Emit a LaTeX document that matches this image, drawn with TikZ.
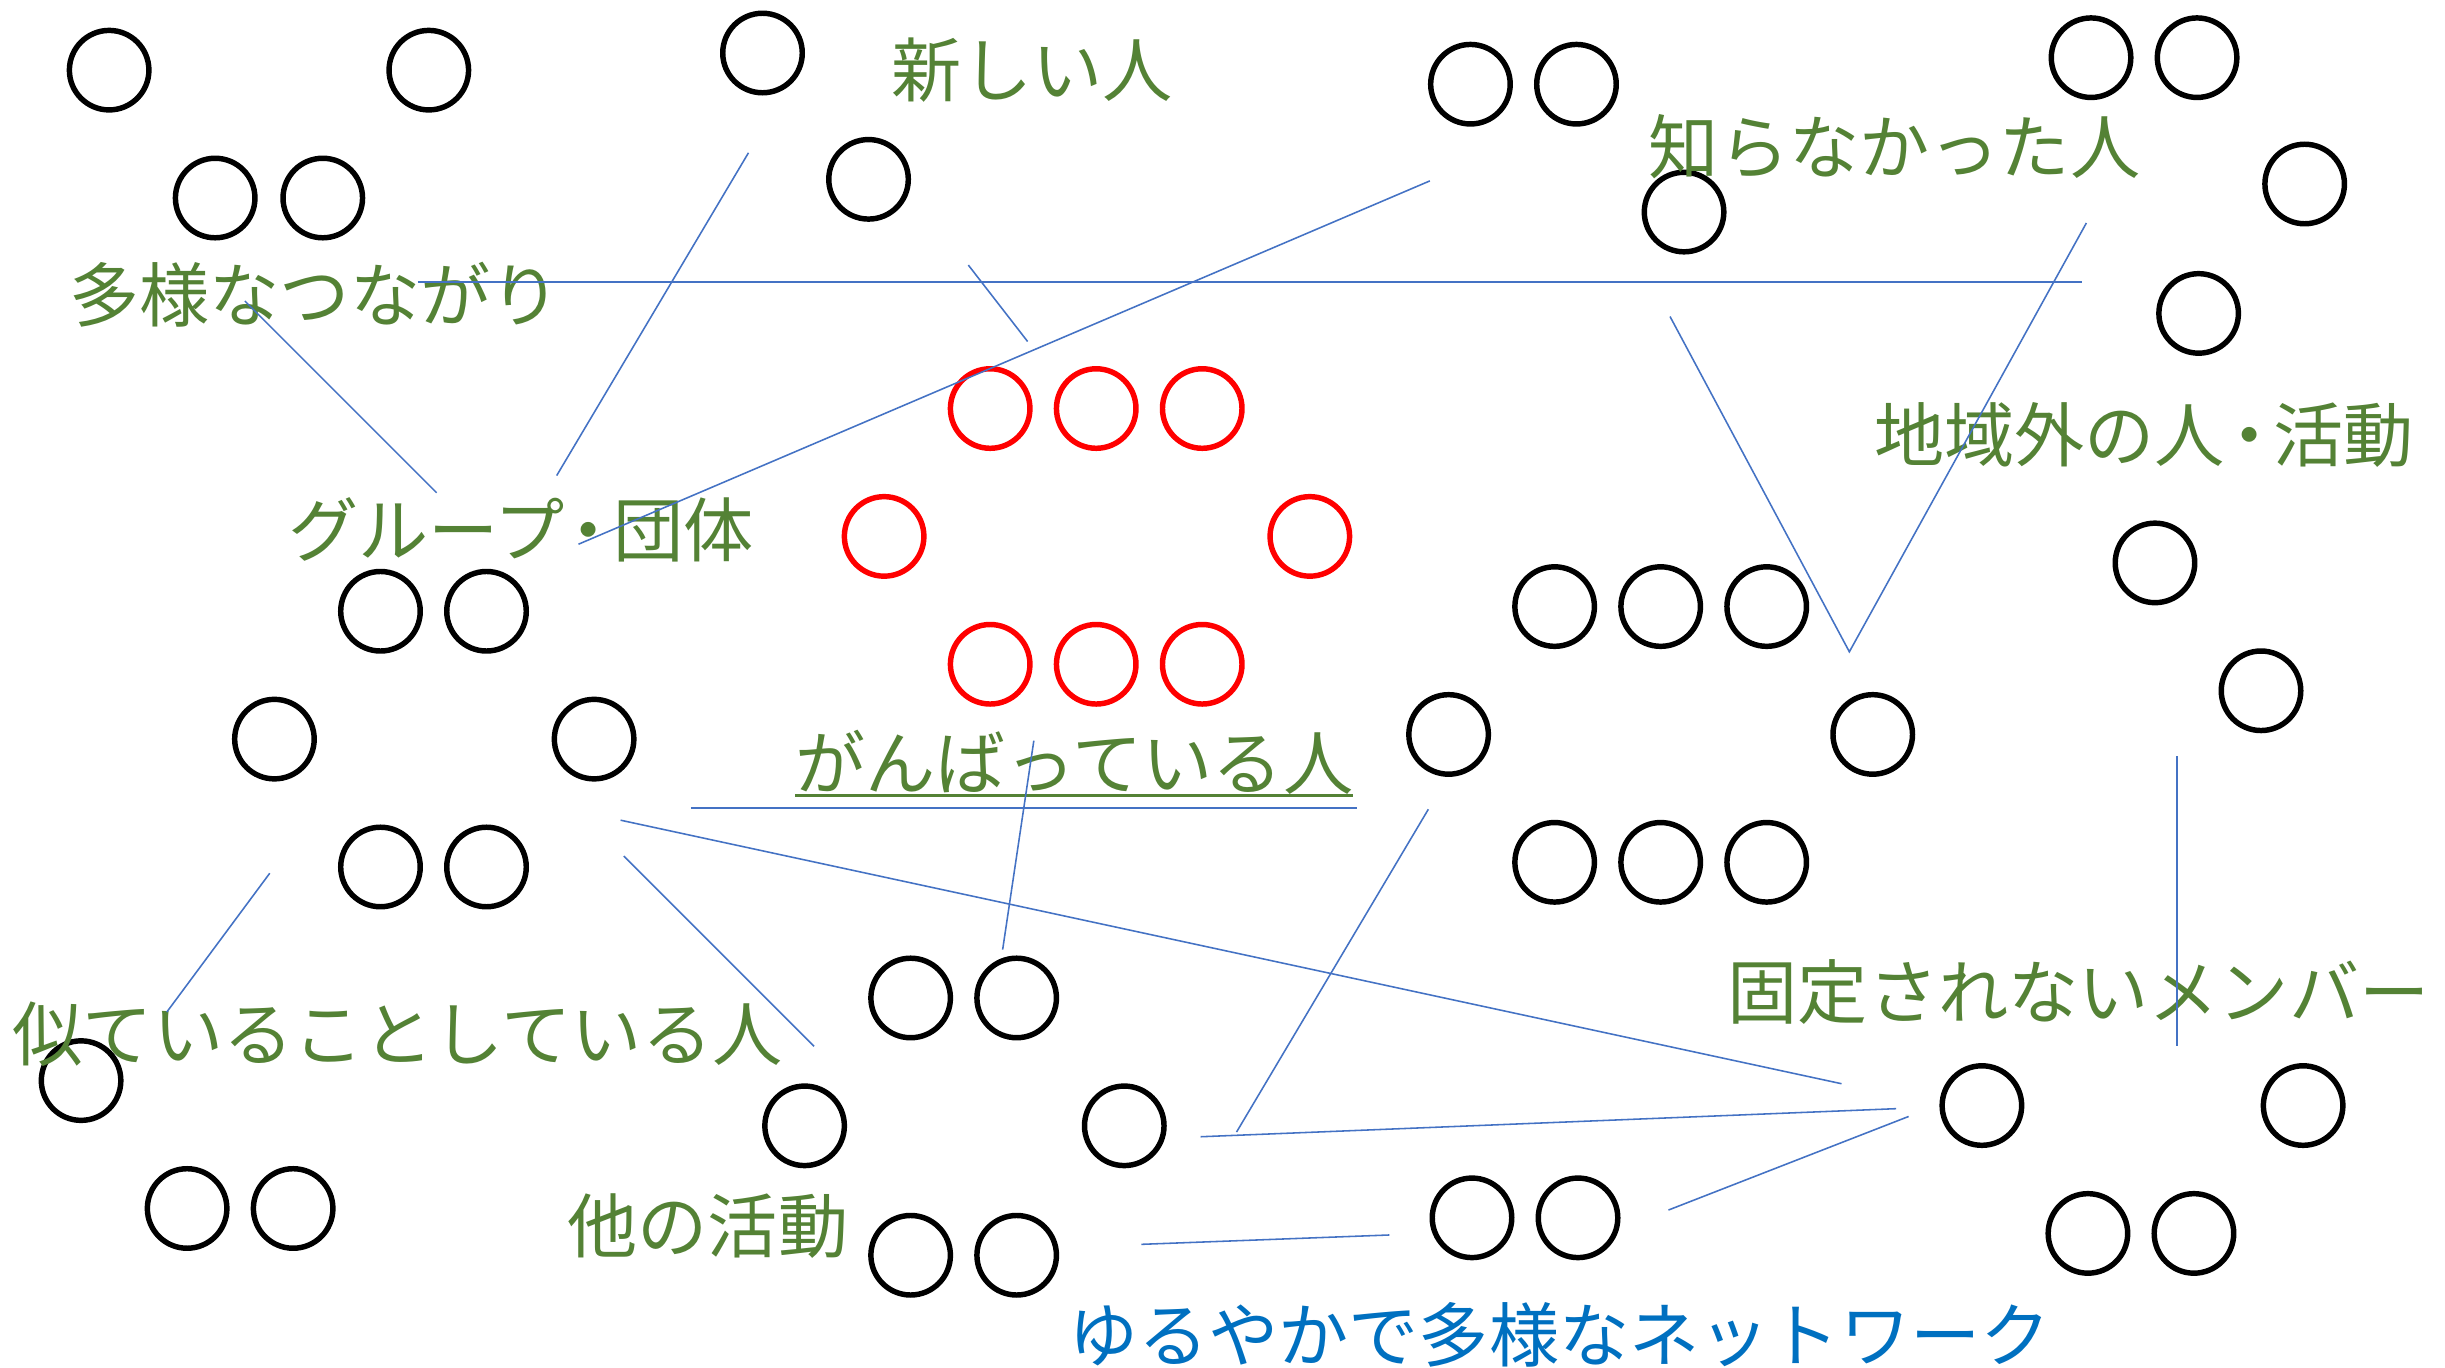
\documentclass[tikz,border=0pt]{standalone}
\usepackage{fontspec}
\newfontfamily\jp{Noto Sans CJK JP}
\definecolor{tg}{HTML}{548235}
\definecolor{tb}{HTML}{0070C0}
\definecolor{ln}{HTML}{4472C4}
\newcommand{\ndot}{\hspace{-7pt}・\hspace{-7pt}}
\begin{document}
\begin{tikzpicture}[x=1pt,y=-1pt,
  pc/.style={circle,draw=black,line width=3.5pt,minimum size=51pt,inner sep=0pt,outer sep=0pt},
  rc/.style={pc,draw=red},
  lbl/.style={anchor=base,inner sep=0pt,outer sep=0pt,font=\jp\fontsize{45}{54}\selectfont,text=tg},
  lblb/.style={lbl,text=tb},
  conn/.style={draw=ln,line width=1pt},
  uline/.style={draw=tg,line width=2.2pt}]
\useasboundingbox[fill=white] (0,0) rectangle (1568,877);

% black circles
\foreach \n/\x/\y in {a1/70/45,a2/275/45,a3/489/34,a4/138/127,a5/207/127,a6/557/115,
  a7/943/54,a8/1011/54,a9/1341/37,a10/1409/37,a11/1080/136,a12/1478/118,a13/1410/201,
  b1/244/392,b2/312/392,b3/176/474,b4/381/474,b5/244/556,b6/312/556,
  d1/997/389,d2/1065/389,d3/1133/389,d4/929/471,d5/1201/471,d6/997/553,d7/1065/553,d8/1133/553,
  e1/1382/361,e2/1450/443,
  f1/584/640,f2/652/640,f3/516/722,f4/721/722,f5/584/805,f6/652/805,
  g1/1271/709,g2/1477/709,g3/1339/791,g4/1407/791,
  h1/944/781,h2/1012/781,
  k1/52/693,k2/120/775,k3/188/775}
  {\node[pc] (\n) at (\x,\y) {};}

% red circles
\foreach \n/\x/\y in {r1/635/262,r2/703/262,r3/771/262,r4/567/344,r5/840/344,
  r6/635/426,r7/703/426,r8/771/426}
  {\node[rc] (\n) at (\x,\y) {};}

% labels
\node[lbl] (t1) at (662,62) {新しい人};
\node[lbl] (t2) at (202,206) {多様なつながり};
\node[lbl] (t3) at (334,357) {グループ\ndot 団体};
\node[lbl] (t4) at (1215,111) {知らなかった人};
\node[lbl] (t5) at (1375,296) {地域外の人\ndot 活動};
\node[lbl] (t6) at (689,506) {がんばっている人};
\draw[uline] ([yshift=-4pt]t6.base west) -- ([yshift=-4pt]t6.base east);
\node[lbl] (t7) at (255,680) {似ていることしている人};
\node[lbl] (t8) at (454,803) {他の活動};
\node[lbl] (t9) at (1333,653) {固定されないメンバー};
\node[lblb] (t10) at (1000,873) {ゆるやかで多様なネットワーク};

% connector end points
\coordinate (p1a) at (268,181); \coordinate (p1b) at (1335,181);
\coordinate (p2a) at (480,98);  \coordinate (p2b) at (357,305);
\coordinate (p3a) at (157,193); \coordinate (p3b) at (280,316);
\coordinate (p4a) at (371,349); \coordinate (p4b) at (917,116);
\coordinate (p5a) at (621,170); \coordinate (p5b) at (659,219);
\coordinate (p6a) at (1071,203); \coordinate (p6v) at (1186,418); \coordinate (p6b) at (1338,143);
\coordinate (p7a) at (1396,485); \coordinate (p7b) at (1396,671);
\coordinate (p8a) at (663,475); \coordinate (p8b) at (643,609);
\coordinate (p9a) at (398,526); \coordinate (p9b) at (1181,695);
\coordinate (p10a) at (400,549); \coordinate (p10b) at (522,671);
\coordinate (p11a) at (173,560); \coordinate (p11b) at (107,649);
\coordinate (p12a) at (916,519); \coordinate (p12b) at (793,726);
\coordinate (p13a) at (770,729); \coordinate (p13b) at (1216,711);
\coordinate (p14a) at (1070,776); \coordinate (p14b) at (1224,716);
\coordinate (p15a) at (732,798); \coordinate (p15b) at (891,792);
\coordinate (p16a) at (443,518); \coordinate (p16b) at (870,518);

\draw[conn] (p1a) -- (p1b);
\draw[conn] (p2a) -- (p2b);
\draw[conn] (p3a) -- (p3b);
\draw[conn] (p4a) -- (p4b);
\draw[conn] (p5a) -- (p5b);
\draw[conn] (p6a) -- (p6v) -- (p6b);
\draw[conn] (p7a) -- (p7b);
\draw[conn] (p8a) -- (p8b);
\draw[conn] (p9a) -- (p9b);
\draw[conn] (p10a) -- (p10b);
\draw[conn] (p11a) -- (p11b);
\draw[conn] (p12a) -- (p12b);
\draw[conn] (p13a) -- (p13b);
\draw[conn] (p14a) -- (p14b);
\draw[conn] (p15a) -- (p15b);
\draw[conn,line width=1.4pt] (p16a) -- (p16b);
\end{tikzpicture}
\end{document}
